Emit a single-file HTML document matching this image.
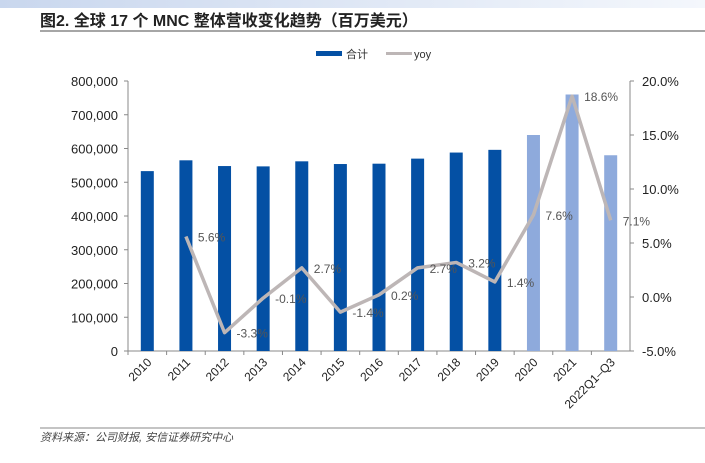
<!DOCTYPE html>
<html><head><meta charset="utf-8"><style>
body{margin:0;width:705px;height:458px;background:#fff;overflow:hidden;font-family:"Liberation Sans","Noto Sans CJK SC",sans-serif;}
</style></head><body>
<svg width="705" height="458" xmlns="http://www.w3.org/2000/svg">
<defs><linearGradient id="g" x1="0" x2="1"><stop offset="0" stop-color="#c9d7ee"/><stop offset="1" stop-color="#f4f7fc"/></linearGradient></defs>
<rect x="0" y="0" width="705" height="8" fill="url(#g)"/>
<text x="40" y="26" font-size="16" font-weight="bold" fill="#222">图2. 全球 17 个 MNC 整体营收变化趋势（百万美元）</text>
<line x1="40" y1="31" x2="705" y2="31" stroke="#888" stroke-width="1.5"/>
<g>
<rect x="316" y="51" width="26" height="5" fill="#0450a4"/>
<text x="346" y="58" font-size="11" fill="#333">合计</text>
<rect x="386" y="52" width="26" height="3" fill="#bdb6b6"/>
<text x="414" y="58" font-size="11" fill="#333">yoy</text>
</g>
<g id="plot"></g>
<line x1="40" y1="428" x2="705" y2="428" stroke="#888" stroke-width="1"/>
<text x="40" y="441" font-size="11" font-style="italic" fill="#444">资料来源：公司财报, 安信证券研究中心</text>
</svg>
<script>
const categories=["2010","2011","2012","2013","2014","2015","2016","2017","2018","2019","2020","2021","2022Q1-Q3"];
const totals=[533000,565000,548000,547000,562000,554000,555000,570000,588000,596000,640000,760000,580000];
const yoy=[null,5.6,-3.3,-0.1,2.7,-1.4,0.2,2.7,3.2,1.4,7.6,18.6,7.1];
const leftTicks=[0,100000,200000,300000,400000,500000,600000,700000,800000];
const rightTicks=[-5,0,5,10,15,20];
const NS="http://www.w3.org/2000/svg";
const g=document.getElementById('plot');
const X0=128,X1=630,Y0=351,Y1=81;
const bw=(X1-X0)/categories.length;
const xc=i=>X0+bw*(i+0.5);
const yL=v=>Y0-(v/800000)*(Y0-Y1);
const yR=v=>Y0-((v+5)/25)*(Y0-Y1);
function mk(t,a){const e=document.createElementNS(NS,t);for(const k in a)e.setAttribute(k,a[k]);g.appendChild(e);return e;}
const fmt=n=>n.toLocaleString('en-US');
leftTicks.forEach(v=>{const t=mk('text',{x:X0-10,y:yL(v)+5,'font-size':13,'text-anchor':'end',fill:'#222'});t.textContent=fmt(v);

const l=mk('line',{x1:X0-4,x2:X0,y1:yL(v),y2:yL(v),stroke:'#888'});});
rightTicks.forEach(v=>{const t=mk('text',{x:X1+12,y:yR(v)+5,'font-size':13,fill:'#222'});t.textContent=v.toFixed(1)+'%';

mk('line',{x1:X1,x2:X1+4,y1:yR(v),y2:yR(v),stroke:'#888'});});
let a=mk('line',{x1:X0,x2:X0,y1:Y1,y2:Y0,stroke:'#888'});
a=mk('line',{x1:X1,x2:X1,y1:Y1,y2:Y0,stroke:'#888'});
a=mk('line',{x1:X0,x2:X1,y1:Y0,y2:Y0,stroke:'#888'});
categories.forEach((c,i)=>{
 mk('line',{x1:X0+bw*i,x2:X0+bw*i,y1:Y0,y2:Y0+4,stroke:'#888'});
 const r=mk('rect',{x:xc(i)-6.5,y:yL(totals[i]),width:13,height:Y0-yL(totals[i]),fill:i>=10?'#8eaadc':'#0450a4'});
 
 const t=mk('text',{x:xc(i)+5,y:Y0+12,'font-size':12,'text-anchor':'end',fill:'#222',transform:`rotate(-45 ${xc(i)+5} ${Y0+12})`});
 t.textContent=c.replace('Q1-Q3','Q1–Q3');
});
let d='';yoy.forEach((v,i)=>{if(v==null)return;d+=(d?'L':'M')+xc(i)+','+yR(v);});
const p=mk('path',{d:d,fill:'none',stroke:'#bdb6b6','stroke-width':3.5,'stroke-linejoin':'round'});

yoy.forEach((v,i)=>{if(v==null)return;const t=mk('text',{x:xc(i)+12,y:yR(v)+5,'font-size':12,fill:'#555'});
t.textContent=v.toFixed(1)+'%';});
</script>
</body></html>
